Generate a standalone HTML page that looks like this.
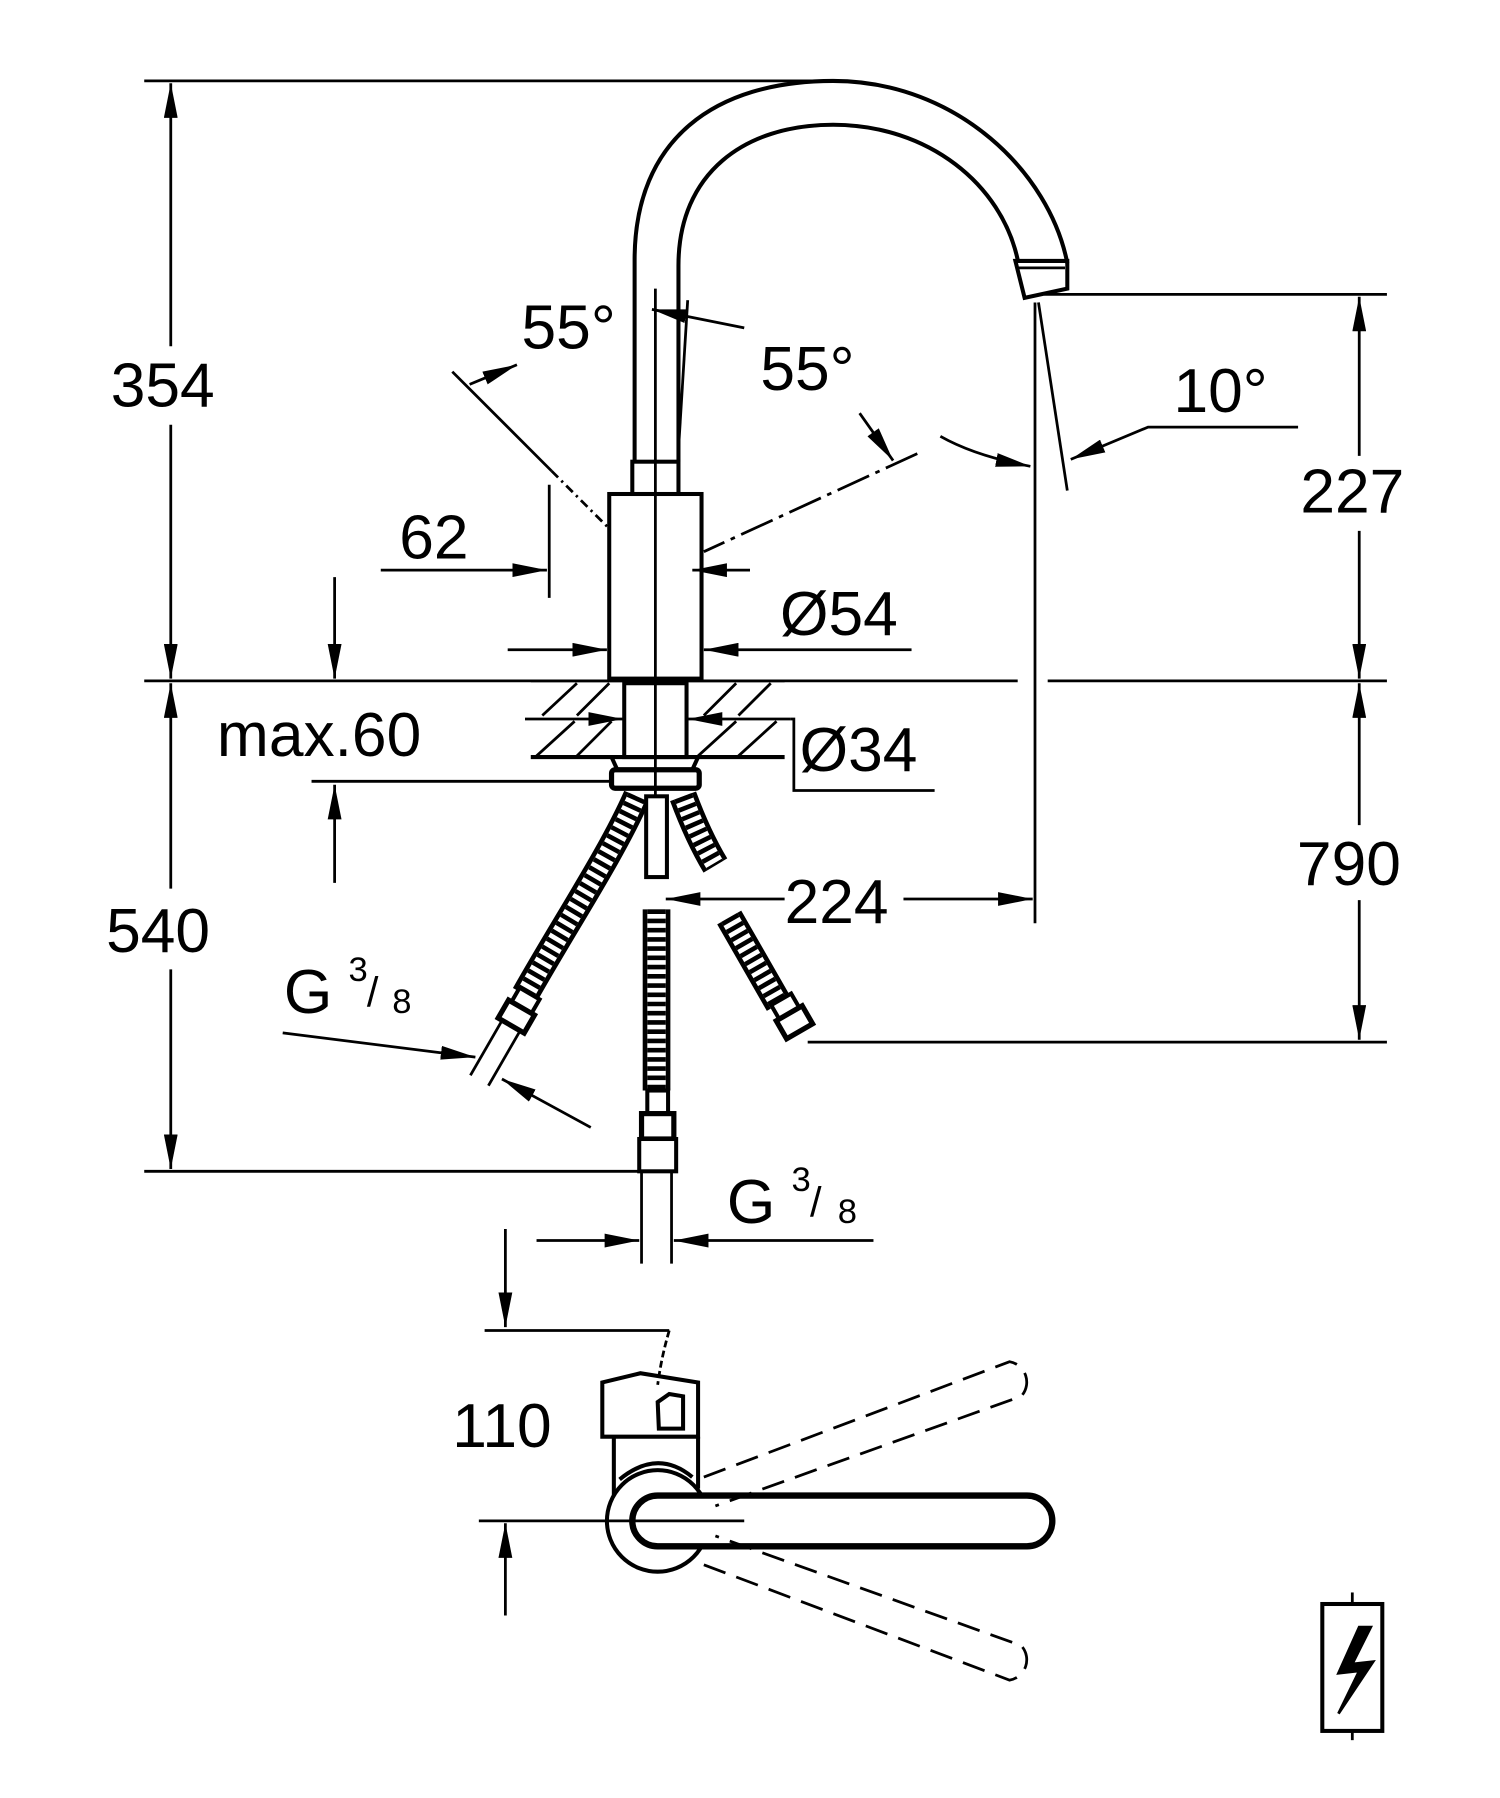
<!DOCTYPE html>
<html><head><meta charset="utf-8"><style>
html,body{margin:0;padding:0;background:#fff;}
svg{display:block;}
text{font-family:"Liberation Sans",Arial,sans-serif;fill:#000;}
</style></head><body>
<svg width="1500" height="1798" viewBox="0 0 1300 1558" xmlns="http://www.w3.org/2000/svg">
<defs>
<marker id="a" viewBox="0 0 30 12" refX="30" refY="6" markerWidth="30" markerHeight="12" markerUnits="userSpaceOnUse" orient="auto-start-reverse">
<path d="M0,0 L30,6 L0,12 z" fill="#000"/></marker>
</defs>
<g stroke="#000" fill="none" stroke-width="2.4">
<line x1="125" y1="70" x2="705" y2="70"/>
<line x1="148" y1="72" x2="148" y2="300" marker-start="url(#a)"/>
<line x1="148" y1="368" x2="148" y2="588" marker-end="url(#a)"/>
<line x1="125" y1="590" x2="882" y2="590"/>
<line x1="908" y1="590" x2="1202" y2="590"/>
<line x1="148" y1="592" x2="148" y2="770" marker-start="url(#a)"/>
<line x1="148" y1="840" x2="148" y2="1013" marker-end="url(#a)"/>
<line x1="125" y1="1015" x2="555" y2="1015"/>
<line x1="905" y1="255" x2="1202" y2="255"/>
<line x1="1178" y1="257" x2="1178" y2="395" marker-start="url(#a)"/>
<line x1="1178" y1="460" x2="1178" y2="588" marker-end="url(#a)"/>
<line x1="1178" y1="592" x2="1178" y2="715" marker-start="url(#a)"/>
<line x1="1178" y1="780" x2="1178" y2="901" marker-end="url(#a)"/>
<line x1="700" y1="903" x2="1202" y2="903"/>
<path d="M550,400 L550,225 C550,120 620,70 722,70 C830,70 910,150 925,228" stroke-width="3.5"/>
<path d="M588,400 L588,230 C588,150 645,108 722,108 C805,108 868,160 882,225" stroke-width="3.5"/>
<path d="M880,226 L925,226 L925,250 L888,258 Z" stroke-width="3.5"/>
<line x1="883" y1="232" x2="923" y2="232"/>
<line x1="897" y1="262" x2="897" y2="800"/>
<line x1="900" y1="262" x2="925" y2="425"/>
<rect x="548" y="400" width="40" height="28" stroke-width="3.5"/>
<rect x="528" y="428" width="80" height="160" stroke-width="3.5"/>
<line x1="568" y1="250" x2="568" y2="700"/>
<line x1="596" y1="260" x2="588" y2="390"/>
<line x1="392" y1="322" x2="478" y2="408"/>
<line x1="448" y1="316" x2="407" y2="333" marker-start="url(#a)"/>
<line x1="478" y1="408" x2="528" y2="458" stroke-dasharray="8 4 2 4"/>
<line x1="795" y1="393" x2="610" y2="478" stroke-dasharray="30 6 4 6"/>
<line x1="745" y1="358" x2="774" y2="399" marker-end="url(#a)"/>
<line x1="565" y1="268" x2="645" y2="284" marker-start="url(#a)"/>
<path d="M815,378 Q845,395 893,404" marker-end="url(#a)"/>
<polyline points="1125,370 995,370 928,398" marker-end="url(#a)"/>
<line x1="476" y1="420" x2="476" y2="518"/>
<line x1="330" y1="494" x2="474" y2="494" marker-end="url(#a)"/>
<line x1="650" y1="494" x2="600" y2="494" marker-end="url(#a)"/>
<line x1="440" y1="563" x2="526" y2="563" marker-end="url(#a)"/>
<line x1="790" y1="563" x2="610" y2="563" marker-end="url(#a)"/>
<line x1="460" y1="590" x2="680" y2="590"/>
<line x1="460" y1="656" x2="680" y2="656" stroke-width="3.5"/>
<g stroke-width="2.4">
<line x1="470" y1="620" x2="500" y2="592"/><line x1="500" y1="620" x2="528" y2="592"/>
<line x1="610" y1="620" x2="638" y2="592"/><line x1="640" y1="620" x2="668" y2="592"/>
<line x1="465" y1="655" x2="498" y2="625"/><line x1="500" y1="655" x2="530" y2="625"/>
<line x1="605" y1="655" x2="638" y2="625"/><line x1="640" y1="655" x2="673" y2="625"/>
</g>
<rect x="541" y="592" width="54" height="64" stroke-width="3.5"/>
<line x1="455" y1="623" x2="540" y2="623" marker-end="url(#a)"/>
<line x1="685" y1="623" x2="596" y2="623" marker-end="url(#a)"/>
<polyline points="685,623 688,623 688,685 810,685"/>
<path d="M530,656 L535,667 L600,667 L605,656" stroke-width="3.5"/>
<rect x="530" y="667" width="76" height="16" rx="3" stroke-width="4.5"/>
<line x1="270" y1="677" x2="530" y2="677"/>
<line x1="290" y1="500" x2="290" y2="588" marker-end="url(#a)"/>
<line x1="290" y1="765" x2="290" y2="680" marker-end="url(#a)"/>
<g stroke-linecap="butt">
<path d="M552,690 C530,740 490,800 455,862" stroke-width="24"/>
<path d="M552,690 C530,740 490,800 455,862" stroke="#fff" stroke-width="16"/>
<path d="M552,690 C530,740 490,800 455,862" stroke-width="16" stroke-dasharray="4 4"/>
<path d="M592,690 Q605,725 620,750" stroke-width="24"/>
<path d="M592,690 Q605,725 620,750" stroke="#fff" stroke-width="16"/>
<path d="M592,690 Q605,725 620,750" stroke-width="16" stroke-dasharray="4 4"/>
<path d="M632,795 L675,870" stroke-width="24"/>
<path d="M632,795 L675,870" stroke="#fff" stroke-width="16"/>
<path d="M632,795 L675,870" stroke-width="16" stroke-dasharray="4 4"/>
<path d="M569,788 L569,945" stroke-width="24"/>
<path d="M569,788 L569,945" stroke="#fff" stroke-width="16"/>
<path d="M569,788 L569,945" stroke-width="16" stroke-dasharray="4 4"/>
</g>
<rect x="560" y="690" width="18" height="70" stroke-width="3.5" fill="#fff"/>
<g transform="translate(448,880) rotate(30)">
<rect x="-10" y="-22" width="20" height="14" stroke-width="3.5" fill="#fff"/>
<rect x="-13" y="-8" width="26" height="18" stroke-width="4.5" fill="#fff"/>
<line x1="-9" y1="10" x2="-9" y2="65"/><line x1="9" y1="10" x2="9" y2="65"/>
</g>
<g transform="translate(688,885) rotate(-30)">
<rect x="-10" y="-22" width="20" height="14" stroke-width="3.5" fill="#fff"/>
<rect x="-13" y="-8" width="26" height="18" stroke-width="4.5" fill="#fff"/>
</g>
<rect x="561" y="945" width="18" height="20" stroke-width="3.5" fill="#fff"/>
<rect x="556" y="965" width="28" height="22" stroke-width="4.5" fill="#fff"/>
<rect x="554" y="987" width="32" height="28" stroke-width="3.5" fill="#fff"/>
<line x1="556" y1="1015" x2="556" y2="1095"/><line x1="582" y1="1015" x2="582" y2="1095"/>
<line x1="245" y1="895" x2="412" y2="916" marker-end="url(#a)"/>
<line x1="512" y1="977" x2="435" y2="935" marker-end="url(#a)"/>
<line x1="465" y1="1075" x2="554" y2="1075" marker-end="url(#a)"/>
<line x1="757" y1="1075" x2="584" y2="1075" marker-end="url(#a)"/>
<line x1="680" y1="779" x2="577" y2="779" marker-end="url(#a)"/>
<line x1="783" y1="779" x2="895" y2="779" marker-end="url(#a)"/>
<line x1="438" y1="1065" x2="438" y2="1150" marker-end="url(#a)"/>
<line x1="420" y1="1153" x2="580" y2="1153"/>
<path d="M580,1153 C575,1170 572,1185 570,1200" stroke-dasharray="6 3"/>
<path d="M605,1198 L555,1190 L522,1198 L522,1245 L605,1245 Z" stroke-width="3.5"/>
<path d="M570,1215 L580,1208 L592,1210 L592,1238 L571,1238 Z" stroke-width="3.5"/>
<line x1="532" y1="1245" x2="532" y2="1300" stroke-width="3.5"/>
<line x1="605" y1="1245" x2="605" y2="1290" stroke-width="3.5"/>
<path d="M537,1282 Q570,1255 600,1280" stroke-width="3.5"/>
<circle cx="570" cy="1318" r="44" stroke-width="3.5" fill="#fff"/>
<path d="M570,1296 L890,1296 A22,22 0 0 1 890,1340 L570,1340 A22,22 0 0 1 570,1296 Z" stroke-width="5.5" fill="#fff"/>
<line x1="415" y1="1318" x2="645" y2="1318" stroke-width="2.4"/>
<path d="M610,1280 L875,1180 A18,18 0 0 1 885,1210 L620,1305" stroke-dasharray="20 10"/>
<path d="M610,1356 L875,1456 A18,18 0 0 0 885,1426 L620,1331" stroke-dasharray="20 10"/>
<line x1="438" y1="1400" x2="438" y2="1320" marker-end="url(#a)"/>
<rect x="1146" y="1390" width="52" height="110" stroke-width="3.5"/>
<line x1="1172" y1="1380" x2="1172" y2="1390"/><line x1="1172" y1="1500" x2="1172" y2="1508"/>
<path d="M1178,1410 L1160,1450 L1178,1448 L1160,1485 L1190,1440 L1172,1442 L1188,1410 Z" fill="#000"/>
</g>
<g font-size="54">
<text x="96" y="352">354</text>
<text x="92" y="825">540</text>
<text x="1127" y="444">227</text>
<text x="1124" y="767">790</text>
<text x="680" y="800">224</text>
<text x="346" y="484">62</text>
<text x="676" y="550">Ø54</text>
<text x="693" y="668">Ø34</text>
<text x="188" y="655">max.60</text>
<text x="452" y="302">55°</text>
<text x="659" y="338">55°</text>
<text x="1017" y="357">10°</text>
<text x="392" y="1254">110</text>
<text x="246" y="878">G</text>
<text x="630" y="1060">G</text>
</g>
<g font-size="30">
<text x="302" y="850">3</text><text x="318" y="872" font-size="36">/</text><text x="340" y="878">8</text>
<text x="686" y="1032">3</text><text x="702" y="1054" font-size="36">/</text><text x="726" y="1060">8</text>
</g>
</svg>
</body></html>
